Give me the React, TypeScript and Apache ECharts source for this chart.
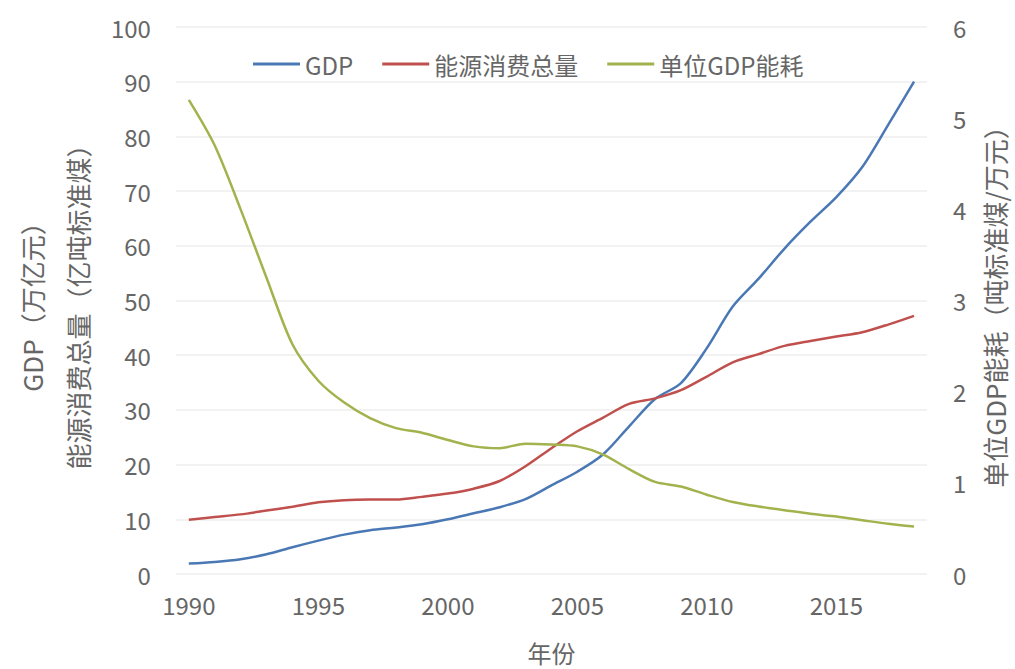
import React, { useEffect, useRef } from "react";
import * as echarts from "echarts";

const years = [
  "1990", "1991", "1992", "1993", "1994", "1995", "1996", "1997", "1998", "1999",
  "2000", "2001", "2002", "2003", "2004", "2005", "2006", "2007", "2008", "2009",
  "2010", "2011", "2012", "2013", "2014", "2015", "2016", "2017", "2018",
];
const gdp = [
  1.9, 2.2, 2.7, 3.6, 4.9, 6.1, 7.2, 8.0, 8.5, 9.1,
  10.0, 11.1, 12.2, 13.7, 16.2, 18.7, 21.9, 27.0, 32.0, 34.9,
  41.3, 48.9, 54.0, 59.5, 64.4, 68.9, 74.4, 82.1, 90.0,
];
const energy = [
  9.9, 10.4, 10.9, 11.6, 12.3, 13.1, 13.5, 13.6, 13.6, 14.1,
  14.7, 15.6, 17.0, 19.7, 23.0, 26.1, 28.6, 31.1, 32.1, 33.6,
  36.1, 38.7, 40.2, 41.7, 42.6, 43.4, 44.2, 45.6, 47.2,
];
const intensity = [
  5.2, 4.7, 4.0, 3.25, 2.52, 2.12, 1.88, 1.71, 1.6, 1.55,
  1.47, 1.4, 1.38, 1.43, 1.42, 1.4, 1.31, 1.15, 1.01, 0.96,
  0.87, 0.79, 0.74, 0.7, 0.66, 0.63, 0.59, 0.55, 0.52,
];
const seriesNames = ["GDP", "能源消费总量", "单位GDP能耗"];
const colors = ["#4A78B5", "#C0504D", "#A3B24C"];

const FONT = "'Noto Sans CJK SC', 'Noto Sans', sans-serif";
const TEXT = "#666666";

export default function App() {
  const ref = useRef<HTMLDivElement>(null);
  useEffect(() => {
    if (!ref.current) return;
    const chart = echarts.init(ref.current, null, { renderer: "svg" });
    chart.setOption({
      animation: false,
      backgroundColor: "#ffffff",
      textStyle: { fontFamily: FONT },
      color: colors,
      legend: {
        left: 248,
        top: 47,
        icon: "rect",
        itemWidth: 47,
        itemHeight: 3,
        itemGap: 29,
        textStyle: { fontSize: 24, color: TEXT, fontFamily: FONT },
        data: seriesNames,
      },
      grid: { left: 172, right: 83, top: 27, bottom: 94, containLabel: false },
      xAxis: {
        type: "category",
        data: years,
        boundaryGap: true,
        name: "年份",
        nameLocation: "middle",
        nameGap: 66,
        nameTextStyle: { fontSize: 24, color: TEXT, fontFamily: FONT },
        axisLine: { show: false },
        axisTick: { show: false },
        axisLabel: { interval: 4, fontSize: 24, color: TEXT, margin: 18, fontFamily: FONT },
      },
      yAxis: [
        {
          type: "value",
          min: 0,
          max: 100,
          interval: 10,
          name: "GDP（万亿元）\n能源消费总量（亿吨标准煤）",
          nameLocation: "middle",
          nameGap: 73,
          nameTextStyle: { fontSize: 26, lineHeight: 46, color: TEXT, fontFamily: FONT },
          axisLine: { show: false },
          axisTick: { show: false },
          axisLabel: { fontSize: 24, color: TEXT, margin: 25, fontFamily: FONT },
          splitLine: { lineStyle: { color: "#EEEEEE", width: 1.5 } },
        },
        {
          type: "value",
          min: 0,
          max: 6,
          interval: 1,
          position: "right",
          name: "单位GDP能耗（吨标准煤/万元）",
          nameLocation: "middle",
          nameGap: 54,
          nameTextStyle: { fontSize: 26, color: TEXT, fontFamily: FONT },
          axisLine: { show: false },
          axisTick: { show: false },
          axisLabel: { fontSize: 24, color: TEXT, margin: 26, fontFamily: FONT },
          splitLine: { show: false },
        },
      ],
      series: [
        {
          name: seriesNames[0],
          type: "line",
          data: gdp,
          yAxisIndex: 0,
          symbol: "none",
          smooth: 0.3,
          lineStyle: { width: 2.5, color: colors[0] },
        },
        {
          name: seriesNames[1],
          type: "line",
          data: energy,
          yAxisIndex: 0,
          symbol: "none",
          smooth: 0.3,
          lineStyle: { width: 2.5, color: colors[1] },
        },
        {
          name: seriesNames[2],
          type: "line",
          data: intensity,
          yAxisIndex: 1,
          symbol: "none",
          smooth: 0.3,
          lineStyle: { width: 2.5, color: colors[2] },
        },
      ],
    });
    return () => chart.dispose();
  }, []);
  return (
    <div
      ref={ref}
      style={{ position: "fixed", left: 0, top: 0, width: 1015, height: 669, background: "#fff" }}
    />
  );
}
